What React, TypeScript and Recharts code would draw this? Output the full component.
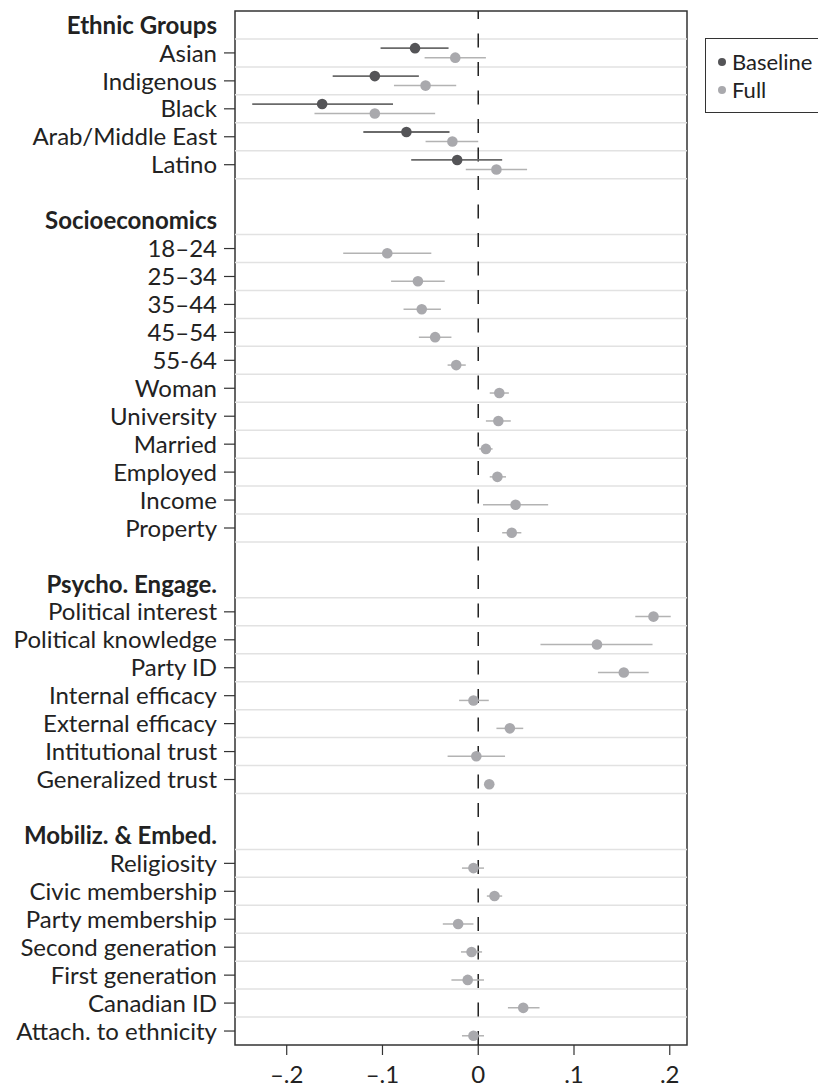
import React from 'react';
import {
  ScatterChart,
  Scatter,
  XAxis,
  YAxis,
  ErrorBar,
  ReferenceLine,
  ReferenceArea,
} from 'recharts';

// Row groups, top to bottom (a blank row separates groups)
const ethnicItems = ['Asian', 'Indigenous', 'Black', 'Arab/Middle East', 'Latino'];
const socioItems = ['18–24', '25–34', '35–44', '45–54', '55-64', 'Woman', 'University', 'Married', 'Employed', 'Income', 'Property'];
const psychoItems = ['Political interest', 'Political knowledge', 'Party ID', 'Internal efficacy', 'External efficacy', 'Intitutional trust', 'Generalized trust'];
const mobilItems = ['Religiosity', 'Civic membership', 'Party membership', 'Second generation', 'First generation', 'Canadian ID', 'Attach. to ethnicity'];

const groupHeaders = ['Ethnic Groups', 'Socioeconomics', 'Psycho. Engage.', 'Mobiliz. & Embed.'];
const groupItems = [ethnicItems, socioItems, psychoItems, mobilItems];

// Baseline model (ethnic groups only)
const baselineEst = [-0.066, -0.108, -0.163, -0.075, -0.022];
const baselineLo = [-0.102, -0.152, -0.236, -0.12, -0.07];
const baselineHi = [-0.031, -0.062, -0.089, -0.03, 0.025];

// Full model, all items in row order
const fullEst = [
  -0.024, -0.055, -0.108, -0.027, 0.019,
  -0.095, -0.063, -0.059, -0.045, -0.023, 0.022, 0.021, 0.008, 0.02, 0.039, 0.035,
  0.183, 0.124, 0.152, -0.005, 0.033, -0.002, 0.0115,
  -0.005, 0.017, -0.021, -0.007, -0.011, 0.047, -0.005,
];
const fullLo = [
  -0.056, -0.088, -0.171, -0.055, -0.013,
  -0.141, -0.091, -0.078, -0.062, -0.032, 0.012, 0.008, 0.001, 0.012, 0.005, 0.025,
  0.164, 0.065, 0.125, -0.02, 0.019, -0.032, 0.008,
  -0.017, 0.009, -0.037, -0.018, -0.028, 0.031, -0.017,
];
const fullHi = [
  0.008, -0.023, -0.045, 0.0, 0.051,
  -0.049, -0.035, -0.039, -0.028, -0.013, 0.032, 0.034, 0.015, 0.029, 0.073, 0.045,
  0.201, 0.182, 0.178, 0.011, 0.047, 0.028, 0.015,
  0.006, 0.025, -0.005, 0.004, 0.006, 0.064, 0.006,
];

const xTicks = [-0.2, -0.1, 0, 0.1, 0.2];
const xTickLabels: { [key: string]: string } = {
  '-0.2': '–.2',
  '-0.1': '–.1',
  '0': '0',
  '0.1': '.1',
  '0.2': '.2',
};

// build row layout
const rowLabels: string[] = [];
const itemRows: number[] = [];
groupHeaders.forEach((h, g) => {
  if (g > 0) rowLabels.push('');
  rowLabels.push(h);
  groupItems[g].forEach((it) => {
    itemRows.push(rowLabels.length);
    rowLabels.push(it);
  });
});
const nRows = rowLabels.length;
const headerSet = new Set(groupHeaders);

const baselineData = baselineEst.map((v, i) => ({
  x: v,
  y: itemRows[i] + 0.5 - 0.17,
  ci: [v - baselineLo[i], baselineHi[i] - v],
}));
const fullData = fullEst.map((v, i) => ({
  x: v,
  y: itemRows[i] + 0.5 + 0.17,
  ci: [v - fullLo[i], fullHi[i] - v],
}));

const yTicks = rowLabels.map((l, i) => (l ? i + 0.5 : null)).filter((v) => v !== null) as number[];
const gridRows = Array.from(new Set(itemRows.flatMap((r) => [r, r + 1]))).filter((r) => r < nRows);

const FONT = 'Lato, "Open Sans", sans-serif';
const X_MIN = -0.254;
const X_MAX = 0.218;

const RowTick = (props: any) => {
  const { x, y, payload } = props;
  const label = rowLabels[Math.floor(payload.value)];
  const isHeader = headerSet.has(label);
  return (
    <g>
      {!isHeader && <line x1={x + 7} x2={x + 18} y1={y} y2={y} stroke="#333" strokeWidth={1.2} />}
      <text
        x={x}
        y={y}
        dy="0.36em"
        textAnchor="end"
        fontFamily={FONT}
        fontSize={24}
        fontWeight={isHeader ? 700 : 400}
        fill="#222"
      >
        {label}
      </text>
    </g>
  );
};

export default function App() {
  return (
    <div style={{ position: 'absolute', left: 0, top: 0, width: 818, height: 1088, overflow: 'hidden', fontFamily: FONT }}>
      <ScatterChart width={818} height={1088} margin={{ top: 11, right: 131, bottom: 3, left: 0 }}>
        <XAxis
          type="number"
          dataKey="x"
          domain={[X_MIN, X_MAX]}
          ticks={xTicks}
          allowDataOverflow
          axisLine={false}
          tickSize={10}
          tickMargin={11}
          height={40}
          tickLine={{ stroke: '#333', strokeWidth: 1.2 }}
          tick={{ fill: '#222', fontSize: 24, fontFamily: FONT }}
          tickFormatter={(v: number) => xTickLabels[String(v)] ?? String(v)}
        />
        <YAxis
          type="number"
          dataKey="y"
          domain={[0, nRows]}
          reversed
          ticks={yTicks}
          interval={0}
          allowDataOverflow
          width={235}
          axisLine={false}
          tickLine={false}
          tickSize={11}
          tickMargin={7}
          tick={<RowTick />}
        />
        {gridRows.map((r) => (
          <ReferenceLine key={`g-${r}`} y={r} stroke="#e2e2e2" strokeWidth={1.5} />
        ))}
        <ReferenceLine x={0} stroke="#222" strokeWidth={1.5} strokeDasharray="14 14.5" />
        <ReferenceArea x1={X_MIN} x2={X_MAX} y1={0} y2={nRows} fill="none" stroke="#333" strokeWidth={1.5} />
        <Scatter
          data={fullData}
          isAnimationActive={false}
          shape={(p: any) => <circle cx={p.cx} cy={p.cy} r={5.3} fill="#a9a9ad" />}
        >
          <ErrorBar dataKey="ci" direction="x" width={0} stroke="#b3b3b3" strokeWidth={1.5} />
        </Scatter>
        <Scatter
          data={baselineData}
          isAnimationActive={false}
          shape={(p: any) => <circle cx={p.cx} cy={p.cy} r={5.3} fill="#545457" />}
        >
          <ErrorBar dataKey="ci" direction="x" width={0} stroke="#6a6a6a" strokeWidth={1.8} />
        </Scatter>
      </ScatterChart>
      <div
        style={{
          position: 'absolute',
          left: 705,
          top: 38,
          width: 115,
          height: 75,
          boxSizing: 'border-box',
          border: '1.5px solid #333',
          background: '#fff',
          color: '#222',
          fontSize: 22,
          paddingLeft: 12,
          paddingTop: 9,
          lineHeight: '28px',
        }}
      >
        <div style={{ display: 'flex', alignItems: 'center' }}>
          <span style={{ width: 8, height: 8, borderRadius: 4, background: '#545457', marginRight: 6 }} />
          Baseline
        </div>
        <div style={{ display: 'flex', alignItems: 'center' }}>
          <span style={{ width: 8, height: 8, borderRadius: 4, background: '#a9a9ad', marginRight: 6 }} />
          Full
        </div>
      </div>
    </div>
  );
}
